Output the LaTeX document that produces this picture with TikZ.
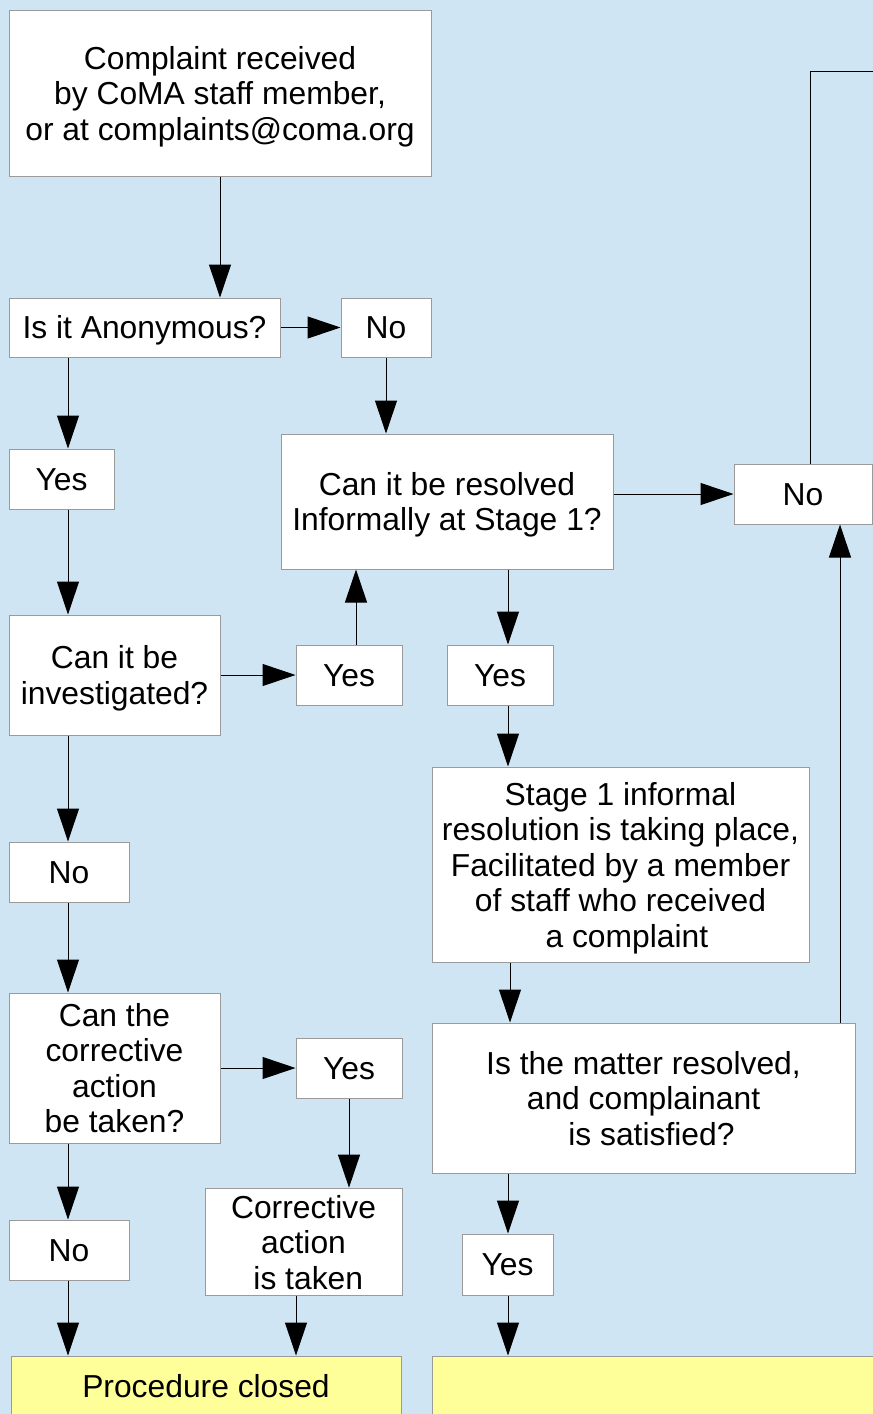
\documentclass[tikz,border=0pt]{standalone}
\usepackage{fontspec}
\setmainfont{Liberation Sans}
\usepackage{tikz}
\usetikzlibrary{calc}
\usetikzlibrary{arrows.meta}
\definecolor{skyback}{HTML}{CFE5F3}
\definecolor{closedfill}{HTML}{FFFF99}
\definecolor{boxline}{HTML}{9A9A9A}
\newcommand{\topstrut}{\rule{0pt}{30pt}}
\tikzset{
  qbox/.style={draw=boxline, line width=1pt, fill=white, inner sep=0pt, align=center,
    execute at begin node={\rule{0pt}{28.8pt}},
    execute at end node={\rule[-6.7pt]{0pt}{6.7pt}}},
  endbox/.style={qbox, fill=closedfill},
  flow/.style={black, line width=1pt, -{Triangle[length=33pt,width=22pt]}},
  plain/.style={black, line width=1pt}
}

\begin{document}
\begin{tikzpicture}[x=1pt, y=-1pt, font=\fontsize{31.8}{35.5}\selectfont]
\useasboundingbox (0,0) rectangle (873,1414);
\clip (0,0) rectangle (873,1414);
\fill[skyback] (0,0) rectangle (873,1414);

% columns used by the connectors
\coordinate (colA) at (68,0);
\coordinate (colB) at (356,0);
\coordinate (colC) at (508,0);
\coordinate (colD) at (510,0);
\coordinate (colE) at (840,0);
\coordinate (colF) at (810,0);
\coordinate (colG) at (296,0);
\coordinate (exitR) at (890,71);

% boxes
\node[qbox, minimum width=422, minimum height=166] (complaint) at (220,93) {\topstrut Complaint received\\by CoMA staff member,\\or at complaints@coma.org};
\node[qbox, minimum width=271, minimum height=59] (anon) at (144.5,327.5) {Is it Anonymous?};
\node[qbox, minimum width=90, minimum height=59] (noA) at (386,327.5) {No};
\node[qbox, minimum width=105, minimum height=60] (yesA) at (61.5,479) {Yes};
\node[qbox, minimum width=332, minimum height=135] (resolve) at (447,501.5) {\topstrut Can it be resolved\\Informally at Stage 1?};
\node[qbox, minimum width=138, minimum height=60] (noB) at (803,494) {No};
\node[qbox, minimum width=211, minimum height=120] (investigate) at (114.5,675) {\topstrut Can it be\\investigated?};
\node[qbox, minimum width=106, minimum height=60] (yesB) at (349,675) {Yes};
\node[qbox, minimum width=106, minimum height=60] (yesC) at (500,675) {Yes};
\node[qbox, minimum width=377, minimum height=195] (stage) at (620.5,864.5) {\topstrut Stage 1 informal\\resolution is taking place,\\Facilitated by a member\\of staff who received\\\hspace*{0.4em}a complaint};
\node[qbox, minimum width=120, minimum height=60] (noC) at (69,872) {No};
\node[qbox, minimum width=211, minimum height=150] (corrq) at (114.5,1068) {\topstrut Can the\\corrective\\action\\be taken?};
\node[qbox, minimum width=106, minimum height=60] (yesD) at (349,1068) {Yes};
\node[qbox, minimum width=423, minimum height=150] (matter) at (643.5,1098) {\topstrut Is the matter resolved,\\and complainant\\\hspace*{0.5em}is satisfied?};
\node[qbox, minimum width=120, minimum height=60] (noD) at (69,1250) {No};
\node[qbox, minimum width=197, minimum height=106] (corrt) at (303.5,1242) {\topstrut Corrective\\action\\\hspace*{0.3em}is taken};
\node[qbox, minimum width=91, minimum height=61] (yesE) at (507.5,1264.5) {Yes};
\node[endbox, minimum width=390, minimum height=60] (closed) at (206,1386) {Procedure closed};
\node[endbox, minimum width=470, minimum height=80] (endR) at (667,1396) {};

% connectors
\draw[flow] (complaint.south) -- (complaint.south |- anon.north);
\draw[flow] (anon.east) -- (noA.west);
\draw[flow] (noA.south) -- (noA.south |- resolve.north);
\draw[flow] (anon.south -| colA) -- (yesA.north -| colA);
\draw[flow] (yesA.south -| colA) -- (investigate.north -| colA);
\draw[flow] (investigate.east) -- (investigate.east -| yesB.west);
\draw[flow] (yesB.north -| colB) -- (resolve.south -| colB);
\draw[flow] (resolve.east |- noB.west) -- (noB.west);
\draw[flow] (resolve.south -| colC) -- (yesC.north -| colC);
\draw[flow] (yesC.south -| colC) -- (stage.north -| colC);
\draw[flow] (stage.south -| colD) -- (matter.north -| colD);
\draw[flow] (matter.north -| colE) -- (noB.south -| colE);
\draw[plain] (noB.north -| colF) |- (exitR);
\draw[flow] (investigate.south -| colA) -- (noC.north -| colA);
\draw[flow] (noC.south -| colA) -- (corrq.north -| colA);
\draw[flow] (corrq.east) -- (corrq.east -| yesD.west);
\draw[flow] (yesD.south) -- (yesD.south |- corrt.north);
\draw[flow] (corrq.south -| colA) -- (noD.north -| colA);
\draw[flow] (noD.south -| colA) -- (closed.north -| colA);
\draw[flow] (corrt.south -| colG) -- (closed.north -| colG);
\draw[flow] (matter.south -| colC) -- (yesE.north -| colC);
\draw[flow] (yesE.south -| colC) -- (endR.north -| colC);
\end{tikzpicture}
\end{document}
